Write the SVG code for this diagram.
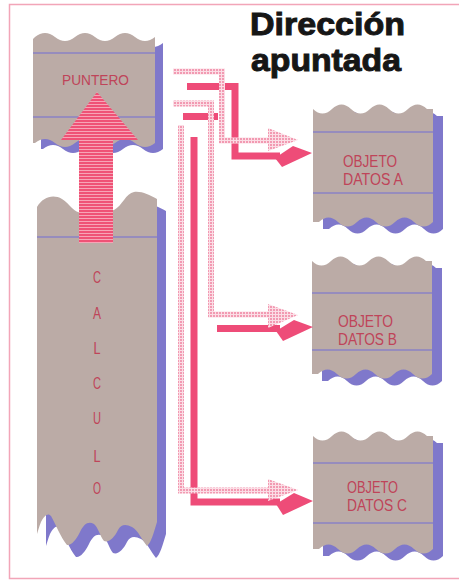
<svg xmlns="http://www.w3.org/2000/svg" width="459" height="582" viewBox="0 0 459 582">
<style>
.gray{fill:#bbaba6}
.shadow{fill:#7f78cb}
.rule{stroke:#8a82c4;stroke-width:1.6;fill:none}
.lbl{font-family:"Liberation Sans",Arial,sans-serif;fill:#bf4459}
.title{font-family:"Liberation Sans",Arial,sans-serif;font-weight:bold;font-size:32px;fill:#161616;stroke:#161616;stroke-width:1}
.solid{stroke:#ee4c78;stroke-width:7;fill:none;stroke-linejoin:miter}
.dot{stroke:url(#dots);stroke-width:6;fill:none}
.solidHead{fill:#ee4c78}
.dotHead{fill:url(#dots)}
.frame{stroke:#f2a5b8;stroke-width:1.5;fill:none}
</style>
<defs>
<pattern id="dots" width="3" height="3" patternUnits="userSpaceOnUse">
<rect width="3" height="3" fill="#fbdde5"/>
<rect width="2" height="2" fill="#f29ab2"/>
</pattern>
<pattern id="stripes" width="4" height="3" patternUnits="userSpaceOnUse">
<rect width="4" height="3" fill="#ef5276"/>
<rect y="2" width="4" height="1" fill="#f7a4b6"/>
</pattern>
<path id="obj" d="M0,5 q9.5,9 19,0 t19,0 t19,0 t19,0 t19,0 t19,0 L120,5 L120,118 q-9.5,9 -19,0 t-19,0 t-19,0 t-19,0 t-19,0 t-19,0 L0,118 Z"/>
<path id="calc" d="M37,207 C43,197 53,194 62,199 C70,204 74,213 82,213 C92,213 104,213 114,210 C122,206 126,193 134,192 C142,191 149,195 157,199 L157,522 C154,532 151,543 147,546 C142,540 138,530 132,527 C126,524 121,524 118,530 C114,538 109,543 104,541 C100,536 98,527 94,524 C88,521 84,524 80,532 C76,540 71,546 67,545 C61,538 56,525 51,516 C48,512 44,516 41,522 C39,527 38,531 37,534 Z"/>
<path id="punt" d="M33,39 L35,37 q10,-8 20,0 t20,0 t20,0 t20,0 t20,0 t20,0 L155,143 q-10,8 -20,0 t-20,0 t-20,0 t-20,0 t-20,0 t-20,0 L33,143 Z"/>
</defs>

<g id="frame">
<path class="frame" d="M459,4.5 H9.5 V578.5 H459"/>
</g>

<g id="title">
<text class="title" x="250" y="35" textLength="155" lengthAdjust="spacingAndGlyphs">Dirección</text>
<text class="title" x="251" y="71" textLength="150" lengthAdjust="spacingAndGlyphs">apuntada</text>
</g>

<g id="puntero">
<use href="#punt" class="shadow" transform="translate(8,6)"/>
<use href="#punt" class="gray"/>
<line class="rule" x1="33" y1="53" x2="155" y2="53"/>
<line class="rule" x1="33" y1="117" x2="155" y2="117"/>
<text class="lbl" x="62" y="85" font-size="14" textLength="67" lengthAdjust="spacingAndGlyphs">PUNTERO</text>
</g>

<g id="calculo">
<use href="#calc" class="shadow" transform="translate(9,12)"/>
<use href="#calc" class="gray"/>
<line class="rule" x1="37" y1="237" x2="157" y2="237"/>
<g class="lbl" font-size="17" text-anchor="middle">
<text x="97" y="283" textLength="8" lengthAdjust="spacingAndGlyphs">C</text>
<text x="97" y="319" textLength="8" lengthAdjust="spacingAndGlyphs">A</text>
<text x="97" y="354" textLength="7" lengthAdjust="spacingAndGlyphs">L</text>
<text x="97" y="389" textLength="8" lengthAdjust="spacingAndGlyphs">C</text>
<text x="97" y="424" textLength="8" lengthAdjust="spacingAndGlyphs">U</text>
<text x="97" y="462" textLength="7" lengthAdjust="spacingAndGlyphs">L</text>
<text x="97" y="494" textLength="8" lengthAdjust="spacingAndGlyphs">O</text>
</g>
</g>

<g id="uparrow">
<rect x="79" y="138" width="34" height="105" fill="url(#stripes)"/>
<polygon points="61,140 97,92 138,140" fill="url(#stripes)"/>
</g>

<g id="objA">
<use href="#obj" class="shadow" transform="translate(323,111)"/>
<use href="#obj" class="gray" transform="translate(313,104)"/>
<line class="rule" x1="313" y1="132" x2="433" y2="132"/>
<line class="rule" x1="313" y1="193" x2="433" y2="193"/>
<text class="lbl" x="343" y="167" font-size="16" textLength="54" lengthAdjust="spacingAndGlyphs">OBJETO</text>
<text class="lbl" x="343" y="185" font-size="16" textLength="60" lengthAdjust="spacingAndGlyphs">DATOS A</text>
</g>

<g id="objB">
<use href="#obj" class="shadow" transform="translate(322,263)"/>
<use href="#obj" class="gray" transform="translate(312,256)"/>
<line class="rule" x1="312" y1="293" x2="432" y2="293"/>
<line class="rule" x1="312" y1="350" x2="432" y2="350"/>
<text class="lbl" x="338" y="327" font-size="16" textLength="55" lengthAdjust="spacingAndGlyphs">OBJETO</text>
<text class="lbl" x="338" y="345" font-size="16" textLength="59" lengthAdjust="spacingAndGlyphs">DATOS B</text>
</g>

<g id="objC">
<use href="#obj" class="shadow" transform="translate(323,438)"/>
<use href="#obj" class="gray" transform="translate(313,431)"/>
<line class="rule" x1="313" y1="463" x2="433" y2="463"/>
<line class="rule" x1="313" y1="523" x2="433" y2="523"/>
<text class="lbl" x="347" y="493" font-size="16" textLength="51" lengthAdjust="spacingAndGlyphs">OBJETO</text>
<text class="lbl" x="347" y="511" font-size="16" textLength="60" lengthAdjust="spacingAndGlyphs">DATOS C</text>
</g>

<g id="connectors">
<path class="solid" d="M187,86.5 H235 V156 H280"/>
<path class="solid" d="M183,116.5 H218"/>
<path class="solid" d="M217,328.5 H280"/>
<path class="solid" d="M194,137 V502 H280"/>
<path class="dot" d="M173,71.5 H222 V140.5 H270"/>
<path class="dot" d="M173,103.5 H211 V314.5 H270"/>
<path class="dot" d="M181,125 V490.5 H270"/>
<polygon class="dotHead" points="268,128 298,140 268,151"/>
<polygon class="dotHead" points="268,304 298,315 268,328"/>
<polygon class="dotHead" points="268,479 298,490 268,501"/>
<polygon class="solidHead" points="275,158 293,146 312,153 282,167"/>
<polygon class="solidHead" points="276,331 294,320 313,327 283,341"/>
<polygon class="solidHead" points="276,504 294,493 313,501 283,515"/>
</g>
</svg>
